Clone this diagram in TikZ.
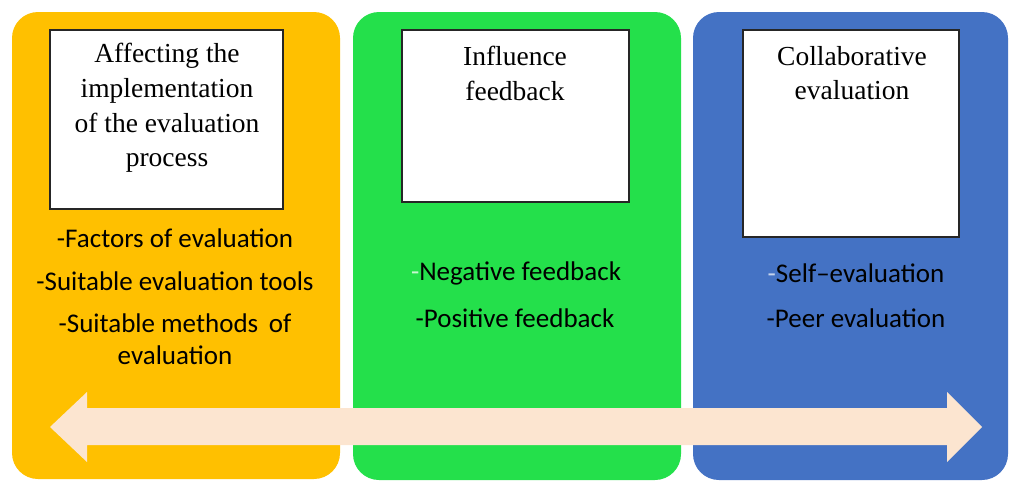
\documentclass[tikz,border=0pt]{standalone}
\usepackage{fontspec}
\newfontfamily\titlefont{Liberation Serif}
\newfontfamily\listfont{Carlito}
\definecolor{panelorange}{HTML}{FFC000}
\definecolor{panelgreen}{HTML}{24E04B}
\definecolor{panelblue}{HTML}{4472C4}
\definecolor{arrowpeach}{HTML}{FCE5D0}
\begin{document}
\begin{tikzpicture}[x=1pt,y=-1pt]
\tikzstyle{panel}=[rounded corners=26pt]
\tikzstyle{titlebox}=[draw=black!85, line width=1.2pt, fill=white, inner sep=0pt]
\tikzstyle{title}=[align=center, inner sep=0pt, font=\titlefont\fontsize{27.5}{34.7}\selectfont]
\tikzstyle{item}=[align=center, inner sep=0pt, font=\listfont\fontsize{27}{32}\selectfont]
\useasboundingbox (0,0) rectangle (1010,483);
\fill[panel, panelorange] (12,12) rectangle (340,479);
\fill[panel, panelgreen] (353,12) rectangle (681,480);
\fill[panel, panelblue] (693,12) rectangle (1008,480);
\node[titlebox, minimum width=233pt, minimum height=179pt] (boxA) at (166.5,119.5) {};
\node[titlebox, minimum width=227pt, minimum height=172pt] (boxB) at (515.5,116) {};
\node[titlebox, minimum width=216pt, minimum height=207pt] (boxC) at (851,133.5) {};
\node[title] (titleA) at (167,108) {Affecting the\\implementation\\of the evaluation\\process};
\node[title] (titleB) at (515,73.5) {Influence\\feedback};
\node[title] (titleC) at (852,73) {Collaborative\\evaluation};
\node[item] (factors) at (175,238) {-Factors of evaluation};
\node[item] (tools) at (175,281) {-Suitable evaluation tools};
\node[item] (methods) at (175,339) {-Suitable methods\, of\\evaluation};
\node[item] (negative) at (516,273) {{\color{white!75!panelgreen}-}Negative feedback};
\node[item] (positive) at (515,318) {-Positive feedback};
\node[item] (self) at (856,273) {{\color{white!70!panelblue}-}Self–evaluation};
\node[item] (peer) at (856,318) {-Peer evaluation};
\fill[arrowpeach] (50,427) -- (87,392) -- (87,408) -- (947,408) -- (947,392) -- (982,427)
  -- (947,462) -- (947,445) -- (87,445) -- (87,462) -- cycle;
\end{tikzpicture}
\end{document}
